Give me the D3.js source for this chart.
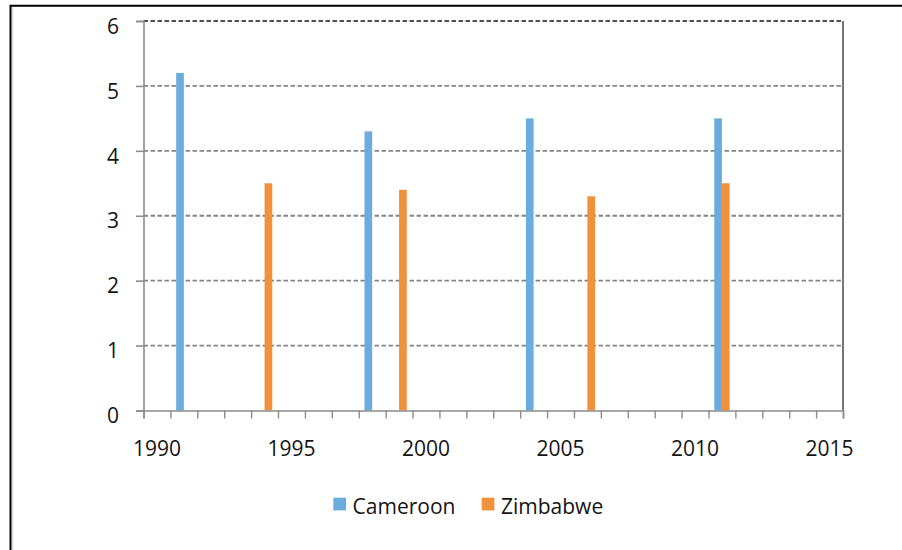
<!DOCTYPE html>
<html>
<head>
<meta charset="utf-8">
<script src="https://cdn.jsdelivr.net/npm/d3@7"></script>
<style>
  body { margin: 0; background: #fff; }
  svg text { font-family: "Open Sans", sans-serif; fill: #141414; }
</style>
</head>
<body>
<div id="chart"></div>
<script>
// category axis: one band per year
const years = [1990, 1991, 1992, 1993, 1994, 1995, 1996, 1997, 1998, 1999, 2000, 2001, 2002,
  2003, 2004, 2005, 2006, 2007, 2008, 2009, 2010, 2011, 2012, 2013, 2014, 2015];
const yearLabels = [1990, 1995, 2000, 2005, 2010, 2015];
const yTicks = [0, 1, 2, 3, 4, 5, 6];

const seriesNames = ["Cameroon", "Zimbabwe"];
const cameroonYears = [1991, 1998, 2004, 2011];
const cameroonValues = [5.2, 4.3, 4.5, 4.5];
const zimbabweYears = [1994, 1999, 2006, 2011];
const zimbabweValues = [3.5, 3.4, 3.3, 3.5];

const colors = { Cameroon: "#6aaddc", Zimbabwe: "#f1913c" };

const W = 902, H = 550;
const plot = { left: 143.5, right: 843, top: 21, bottom: 410.5 };

const svg = d3.select("#chart").append("svg")
  .attr("width", W).attr("height", H);

// outer frame (left + top only, rest cropped)
svg.append("path")
  .attr("d", `M10.5,${H} V5.8 H${W}`)
  .attr("fill", "none").attr("stroke", "#000").attr("stroke-width", 2);
svg.append("line")
  .attr("x1", 12.8).attr("x2", 12.8).attr("y1", 7).attr("y2", H)
  .attr("stroke", "#d0d0d0").attr("stroke-width", 1);

const x = d3.scaleBand()
  .domain(years)
  .range([plot.left, plot.right])
  .padding(0);

const xInner = d3.scaleBand()
  .domain(seriesNames)
  .range([0, x.bandwidth()])
  .paddingInner(0)
  .paddingOuter(0.75);

// linear twin of the band scale, used for the boundary ticks
const xEdges = d3.scaleLinear()
  .domain([1990, 2016])
  .range([plot.left, plot.right]);

const y = d3.scaleLinear()
  .domain([0, 6])
  .range([plot.bottom, plot.top]);

// gridlines
svg.append("g")
  .selectAll("line")
  .data(yTicks.filter(d => d > 0))
  .join("line")
  .attr("x1", plot.left).attr("x2", plot.right)
  .attr("y1", d => y(d)).attr("y2", d => y(d))
  .attr("stroke", d => d === 6 ? "#505050" : "#858585")
  .attr("stroke-width", 1.8)
  .attr("stroke-dasharray", "4.5,2.5");

// right border of plot area
svg.append("line")
  .attr("x1", plot.right).attr("x2", plot.right)
  .attr("y1", plot.top).attr("y2", plot.bottom)
  .attr("stroke", "#555").attr("stroke-width", 1.6);

// bars
const bars = [
  ...cameroonYears.map((yr, i) => ({ series: "Cameroon", year: yr, value: cameroonValues[i] })),
  ...zimbabweYears.map((yr, i) => ({ series: "Zimbabwe", year: yr, value: zimbabweValues[i] }))
];

svg.append("g")
  .selectAll("rect")
  .data(bars)
  .join("rect")
  .attr("x", d => x(d.year) + xInner(d.series))
  .attr("y", d => y(d.value))
  .attr("width", xInner.bandwidth())
  .attr("height", d => y(0) - y(d.value))
  .attr("fill", d => colors[d.series]);

// y axis
const yAxis = svg.append("g")
  .attr("transform", `translate(${plot.left},0)`)
  .call(d3.axisLeft(y).tickValues(yTicks).tickSize(7.5).tickPadding(17).tickFormat(d3.format("d")));
yAxis.select(".domain").attr("stroke", "#8c8c8c").attr("stroke-width", 1.6);
yAxis.selectAll(".tick line").attr("stroke", "#8c8c8c").attr("stroke-width", 1.6);
yAxis.selectAll(".tick text")
  .attr("font-size", 21)
  .attr("dy", "0.58em")
  .style("font-family", "'Open Sans', sans-serif");

// x axis: ticks at year boundaries
const xTickAxis = svg.append("g")
  .attr("transform", `translate(0,${plot.bottom})`)
  .call(d3.axisBottom(xEdges).tickValues(years.concat([2016])).tickSize(8).tickFormat(""));
xTickAxis.select(".domain").attr("stroke", "#8c8c8c").attr("stroke-width", 1.6);
xTickAxis.selectAll(".tick line").attr("stroke", "#8c8c8c").attr("stroke-width", 1.4);

// x axis labels, centred in the year bands
const xLabelAxis = svg.append("g")
  .attr("transform", `translate(0,${plot.bottom})`)
  .call(d3.axisBottom(x).tickValues(yearLabels).tickSize(0).tickPadding(30.5));
xLabelAxis.select(".domain").remove();
xLabelAxis.selectAll(".tick text")
  .attr("font-size", 21)
  .style("font-family", "'Open Sans', sans-serif");

// legend
const legendItems = [
  { name: "Cameroon", x: 333.3 },
  { name: "Zimbabwe", x: 481.7 }
];
const legend = svg.append("g").selectAll("g")
  .data(legendItems)
  .join("g")
  .attr("transform", d => `translate(${d.x},497.7)`);
legend.append("rect")
  .attr("width", 12.7).attr("height", 12.7)
  .attr("fill", d => colors[d.name]);
legend.append("text")
  .attr("x", 19.3).attr("y", 16.3)
  .attr("font-size", 21)
  .text(d => d.name);
</script>
</body>
</html>
